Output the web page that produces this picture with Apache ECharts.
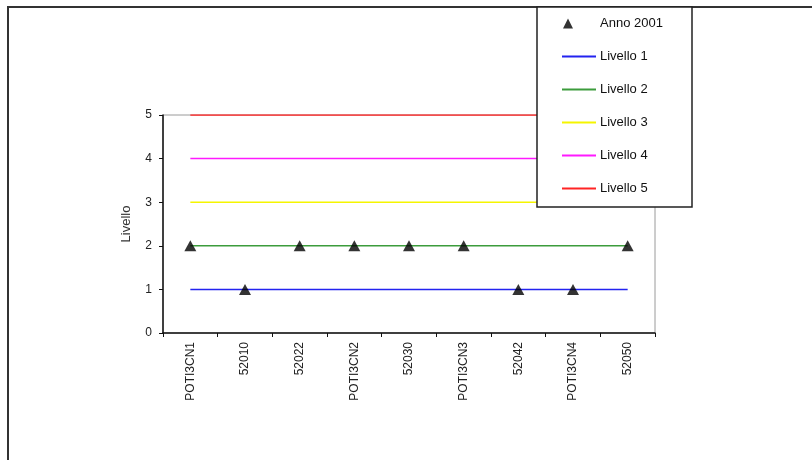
<!DOCTYPE html>
<html>
<head>
<meta charset="utf-8">
<script src="https://cdn.jsdelivr.net/npm/echarts@6/dist/echarts.min.js"></script>
<style>
  html, body { margin: 0; padding: 0; background: #fff; }
  #chart { width: 812px; height: 460px; }
</style>
</head>
<body>
<div id="chart"></div>
<script>
// Stations along the x axis
var stations = ['POTI3CN1', '52010', '52022', 'POTI3CN2', '52030', 'POTI3CN3', '52042', 'POTI3CN4', '52050'];

// Observed level per station, year 2001
var anno2001 = [2, 1, 2, 2, 2, 2, 1, 1, 2];

// Reference levels (constant across stations)
var livello1 = [1, 1, 1, 1, 1, 1, 1, 1, 1];
var livello2 = [2, 2, 2, 2, 2, 2, 2, 2, 2];
var livello3 = [3, 3, 3, 3, 3, 3, 3, 3, 3];
var livello4 = [4, 4, 4, 4, 4, 4, 4, 4, 4];
var livello5 = [5, 5, 5, 5, 5, 5, 5, 5, 5];

var yTicks = { min: 0, max: 5, interval: 1 };

var levelSeries = [
  { name: 'Livello 1', data: livello1, color: '#2323f0' },
  { name: 'Livello 2', data: livello2, color: '#3c9c3c' },
  { name: 'Livello 3', data: livello3, color: '#f5f500' },
  { name: 'Livello 4', data: livello4, color: '#ff1aff' },
  { name: 'Livello 5', data: livello5, color: '#ff2424' }
];

var FONT = 'Liberation Sans, Arial, sans-serif';

var chart = echarts.init(document.getElementById('chart'), null, { renderer: 'canvas' });

var series = levelSeries.map(function (s) {
  return {
    name: s.name,
    type: 'line',
    data: s.data,
    showSymbol: false,
    symbol: 'none',
    lineStyle: { color: s.color, width: 1.5 },
    itemStyle: { color: s.color },
    z: 2,
    silent: true
  };
});

series.push({
  name: 'Anno 2001',
  type: 'scatter',
  data: anno2001,
  symbol: 'triangle',
  symbolSize: [12, 11],
  itemStyle: { color: '#000' },
  z: 5,
  silent: true
});

chart.setOption({
  animation: false,
  backgroundColor: '#fff',
  grid: {
    left: 163, right: 157, top: 115, bottom: 127,
    show: true, borderColor: '#9a9a9a', borderWidth: 1,
    containLabel: false
  },
  xAxis: {
    type: 'category',
    data: stations,
    boundaryGap: true,
    axisLine: { lineStyle: { color: '#111', width: 1.5 } },
    axisTick: { show: true, interval: 0, length: 4, lineStyle: { color: '#111' } },
    axisLabel: {
      interval: 0, rotate: 90, margin: 9,
      fontFamily: FONT, fontSize: 12, color: '#222'
    },
    splitLine: { show: false }
  },
  yAxis: {
    type: 'value',
    min: yTicks.min, max: yTicks.max, interval: yTicks.interval,
    name: 'Livello',
    nameLocation: 'middle',
    nameRotate: 90,
    nameGap: 30,
    nameTextStyle: { fontFamily: FONT, fontSize: 13, color: '#333' },
    axisLine: { show: true, lineStyle: { color: '#111', width: 1.5 } },
    axisTick: { show: true, length: 4, lineStyle: { color: '#111' } },
    axisLabel: { margin: 11, fontFamily: FONT, fontSize: 12, color: '#222' },
    splitLine: { show: false }
  },
  legend: [
    {
      data: ['Anno 2001'],
      orient: 'vertical',
      left: 563, top: 17,
      itemWidth: 10, itemHeight: 10,
      padding: 0,
      textStyle: { fontFamily: FONT, fontSize: 13, color: '#111', padding: [0, 0, 0, 22] },
      selectedMode: false,
      z: 20
    },
    {
      data: levelSeries.map(function (s) { return { name: s.name, icon: 'rect' }; }),
      orient: 'vertical',
      left: 562, top: 50,
      itemWidth: 34, itemHeight: 2,
      itemGap: 20,
      padding: 0,
      textStyle: { fontFamily: FONT, fontSize: 13, color: '#111', padding: [0, 0, 0, -1] },
      selectedMode: false,
      z: 20
    }
  ],
  graphic: [
    {
      type: 'rect',
      z: 0,
      silent: true,
      shape: { x: 8, y: 7, width: 900, height: 600 },
      style: { fill: 'none', stroke: '#333', lineWidth: 2 }
    },
    {
      type: 'rect',
      z: 10,
      silent: true,
      shape: { x: 537, y: 7, width: 155, height: 200 },
      style: { fill: '#fff', stroke: '#222', lineWidth: 1.5 }
    }
  ],
  series: series
});
</script>
</body>
</html>
